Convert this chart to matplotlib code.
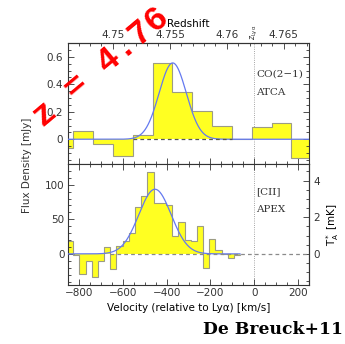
import numpy as np
import matplotlib
matplotlib.use("Agg")
import matplotlib.pyplot as plt
from matplotlib.ticker import MultipleLocator, FixedLocator, FixedFormatter
from matplotlib.transforms import blended_transform_factory

# ---------------- data ----------------
C_KMS = 299792.458
Z_LYA = 4.7624

# CO(2-1), ATCA: channel edges [km/s] and flux densities [mJy]
co_edges = [-916, -826, -735, -644, -552, -464, -374, -283, -193, -103, -12, 79, 166, 256]
co_flux = [-0.067, 0.057, -0.036, -0.119, 0.029, 0.555, 0.345, 0.205, 0.094, 0.0, 0.086, 0.119, -0.136]
co_fit = dict(amp=0.555, center=-372, sigma=62)

# [CII], APEX: channel edges [km/s] and flux densities [mJy]
cii_edges = [-854, -826, -798, -770, -741, -713, -685, -657, -629, -600, -572, -544, -516,
             -488, -459, -431, -403, -375, -347, -318, -290, -262, -234, -206, -177, -149,
             -121, -93, -65]
cii_flux = [18.5, -2, -29, -11, -34, -11, 10.5, -22, 11.5, 18, 30, 68, 83, 118, 74, 73, 71,
            26, 46, 20, 19, 40, -21, 21, 6, 0.5, -6, -1.5]
cii_fit = dict(amp=93.5, center=-453, sigma=74)

MJY_PER_MK = 26.5

vel_ticks = [-800, -600, -400, -200, 0, 200]
vel_labels = ["\u2212800", "\u2212600", "\u2212400", "\u2212200", "0", "200"]
z_ticks = [4.75, 4.755, 4.76, 4.765]
z_labels = ["4.75", "4.755", "4.76", "4.765"]
co_yticks = [0, 0.2, 0.4, 0.6]
co_ylabels = ["0", "0.2", "0.4", "0.6"]
cii_yticks = [0, 50, 100]
tmb_ticks = [0, 2, 4]

# ---------------- style ----------------
YELLOW = "#ffff22"
EDGE = "#9c9c84"
BLUE = "#6479f0"
INK = "#333333"
FS = 7.5

plt.rcParams["font.family"] = ["DejaVu Sans"]
plt.rcParams["font.size"] = FS
plt.rcParams["text.color"] = INK
plt.rcParams["axes.edgecolor"] = INK
plt.rcParams["xtick.color"] = INK
plt.rcParams["ytick.color"] = INK
plt.rcParams["axes.linewidth"] = 0.8

W, H = 345, 344
fig = plt.figure(figsize=(W / 100, H / 100), dpi=100)

x0, x1 = 68 / W, 309 / W
y_top, y_mid, y_bot = 1 - 43 / H, 1 - 164 / H, 1 - 285 / H
ax1 = fig.add_axes([x0, y_mid, x1 - x0, y_top - y_mid])
ax2 = fig.add_axes([x0, y_bot, x1 - x0, y_mid - y_bot])

XLIM = (-850, 250)


def gauss(v, amp, center, sigma):
    return amp * np.exp(-0.5 * ((v - center) / sigma) ** 2)


def v2z(v):
    return Z_LYA + np.asarray(v) * (1 + Z_LYA) / C_KMS


def z2v(z):
    return (np.asarray(z) - Z_LYA) * C_KMS / (1 + Z_LYA)


def style_ticks(ax, **kw):
    ax.tick_params(which="both", direction="in", width=0.6, **kw)
    ax.tick_params(which="major", length=4.0)
    ax.tick_params(which="minor", length=2.2)


# ---- top panel: CO(2-1)
ax1.stairs(co_flux, co_edges, baseline=0, fill=True, color=YELLOW, zorder=1)
ax1.stairs(co_flux, co_edges, baseline=0, fill=False, color=EDGE, lw=0.8, zorder=2)
vgrid = np.linspace(XLIM[0], XLIM[1], 800)
ax1.plot(vgrid, gauss(vgrid, **co_fit), color=BLUE, lw=0.9, zorder=3)
ax1.plot([-552, -103], [0, 0], ls=(0, (3, 2.5)), color="#555555", lw=0.9, zorder=4)
ax1.axvline(0, color="#888888", lw=0.6, ls=":", zorder=0)
ax1.set_xlim(*XLIM)
ax1.set_ylim(-0.18, 0.70)
ax1.xaxis.set_major_locator(FixedLocator(vel_ticks))
ax1.xaxis.set_minor_locator(MultipleLocator(50))
ax1.yaxis.set_major_locator(FixedLocator(co_yticks))
ax1.yaxis.set_major_formatter(FixedFormatter(co_ylabels))
ax1.yaxis.set_minor_locator(MultipleLocator(0.05))
style_ticks(ax1, bottom=True, top=False, left=True, right=True, labelbottom=False)

secx = ax1.secondary_xaxis("top", functions=(v2z, z2v))
secx.xaxis.set_major_locator(FixedLocator(z_ticks))
secx.xaxis.set_major_formatter(FixedFormatter(z_labels))
secx.xaxis.set_minor_locator(MultipleLocator(0.001))
style_ticks(secx, pad=2)
secx.set_xlabel("Redshift", fontsize=FS, labelpad=2)

trans = blended_transform_factory(ax1.transData, ax1.transAxes)
ax1.text(0, 1.025, r"$z_{\rm Ly\alpha}$", transform=trans, rotation=90,
         ha="center", va="bottom", fontsize=5.5, color=INK)
ax1.text(0.78, 0.74, "CO(2\u22121)", transform=ax1.transAxes, fontsize=FS,
         family="DejaVu Serif", ha="left", va="center")
ax1.text(0.78, 0.59, "ATCA", transform=ax1.transAxes, fontsize=FS,
         family="DejaVu Serif", ha="left", va="center")

# ---- bottom panel: [CII]
ax2.stairs(cii_flux, cii_edges, baseline=0, fill=True, color=YELLOW, zorder=1)
ax2.stairs(cii_flux, cii_edges, baseline=0, fill=False, color=EDGE, lw=0.8, zorder=2)
vg2 = np.linspace(XLIM[0], -65, 600)
ax2.plot(vg2, gauss(vg2, **cii_fit), color=BLUE, lw=0.9, zorder=3)
ax2.plot([-660, XLIM[1]], [0, 0], ls=(0, (3, 2.5)), color="#8a8a8a", lw=0.9, zorder=4)
ax2.axvline(0, color="#888888", lw=0.6, ls=":", zorder=0)
ax2.set_xlim(*XLIM)
ax2.set_ylim(-45, 130)
ax2.xaxis.set_major_locator(FixedLocator(vel_ticks))
ax2.xaxis.set_major_formatter(FixedFormatter(vel_labels))
ax2.xaxis.set_minor_locator(MultipleLocator(50))
ax2.yaxis.set_major_locator(FixedLocator(cii_yticks))
ax2.yaxis.set_minor_locator(MultipleLocator(10))
style_ticks(ax2, bottom=True, top=True, left=True, right=False, pad=2.5)
ax2.set_xlabel("Velocity (relative to Ly\u03b1) [km/s]", fontsize=FS, labelpad=3)

secy = ax2.secondary_yaxis("right", functions=(lambda f: np.asarray(f) / MJY_PER_MK,
                                                 lambda t: np.asarray(t) * MJY_PER_MK))
secy.yaxis.set_major_locator(FixedLocator(tmb_ticks))
secy.yaxis.set_minor_locator(MultipleLocator(0.5))
style_ticks(secy, pad=3)
secy.set_ylabel(r"T$^*_{\rm A}$ [mK]", fontsize=FS, rotation=90, labelpad=3)

ax2.text(0.78, 0.77, "[CII]", transform=ax2.transAxes, fontsize=FS,
         family="DejaVu Serif", ha="left", va="center")
ax2.text(0.78, 0.62, "APEX", transform=ax2.transAxes, fontsize=FS,
         family="DejaVu Serif", ha="left", va="center")

# shared y label
fig.text(27 / W, 1 - 165 / H, "Flux Density [mJy]", rotation=90, ha="center",
         va="center", fontsize=FS)

# annotations
fig.text(101 / W, 1 - 67 / H, "z = 4.76", rotation=40, color="red", fontsize=25,
         family="Liberation Mono", fontweight="bold", ha="center", va="center",
         rotation_mode="anchor")
fig.text(273 / W, 1 - 330 / H, "De Breuck+11", fontsize=12.3, fontweight="bold",
         family="DejaVu Serif", ha="center", va="center", color="black")

fig.savefig("out.png", dpi=100)
